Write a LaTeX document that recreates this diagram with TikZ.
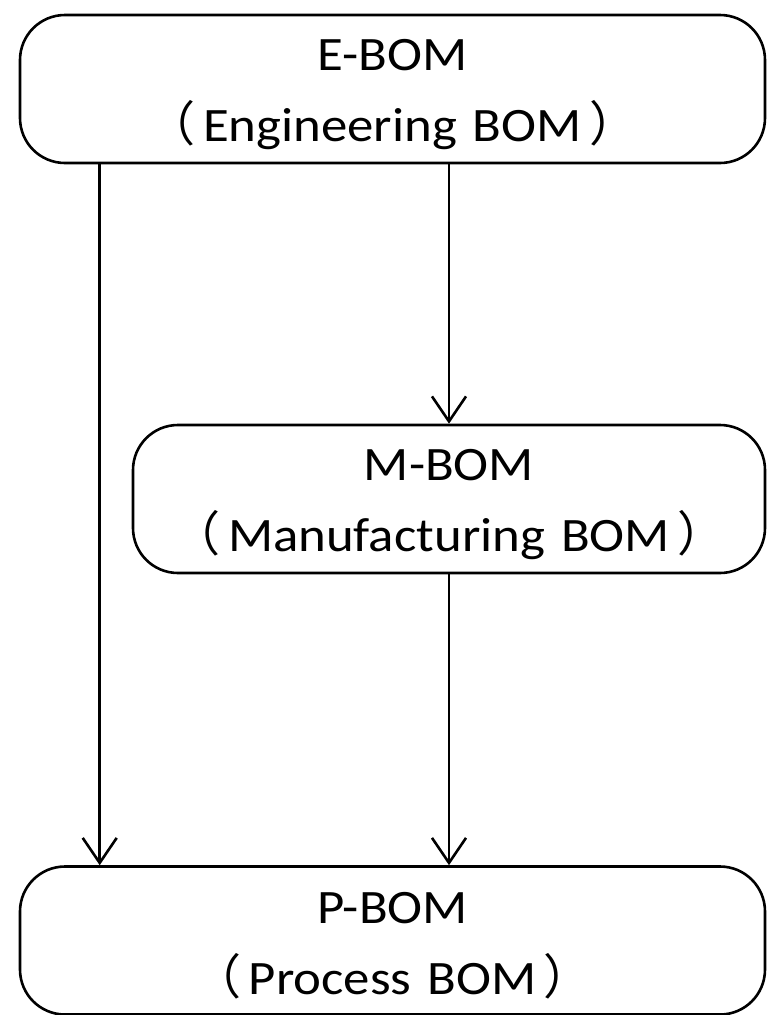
\documentclass[tikz,border=0pt]{standalone}
\usepackage{fontspec}
\setmainfont{Carlito}[FakeStretch=1.1]
\newfontfamily\cjk{Noto Sans CJK SC}
\usepackage{tikz}
\usetikzlibrary{positioning}
\usetikzlibrary{arrows.meta}
% full-width brackets, set a little apart from the words
\newcommand{\lp}{{\cjk （}\hspace{0.15em}}
\newcommand{\rp}{\hspace{0.15em}{\cjk ）}}
\tikzset{
thickline/.style={line width=2.6pt},
bom/.style 2 args={draw, thickline, rounded corners=45pt, align=center,
	minimum width=#1, minimum height=148pt, inner sep=0pt,
	font=\fontsize{48}{71}\selectfont, text width=#2,
	execute at begin node={\rule{0pt}{42pt}}},
flow/.style={thickline, -{Straight Barb[length=25pt, width=34pt, line width=2.6pt]}},
}

\begin{document}
\begin{tikzpicture}[x=1pt, y=-1pt]
	\useasboundingbox (0,0) rectangle (767,1015);
	\node[bom={745pt}{700pt}] (ebom) at (392.5,89) {E-BOM\\\lp Engineering BOM\rp};
	\node[bom={632pt}{600pt}] (mbom) at (449,499) {M-BOM\\\lp Manufacturing BOM\rp};
	\node[bom={745pt}{700pt}] (pbom) at (392.5,940.5) {P-BOM\\\lp Process BOM\rp};
	
	%
	\draw[flow] ([xshift=81pt]ebom.south west) to ([xshift=81pt]pbom.north west);
	\draw[flow] (ebom.south -| mbom.north) to (mbom.north);
	\draw[flow] (mbom.south) to (mbom.south |- pbom.north);
\end{tikzpicture}
\end{document}
